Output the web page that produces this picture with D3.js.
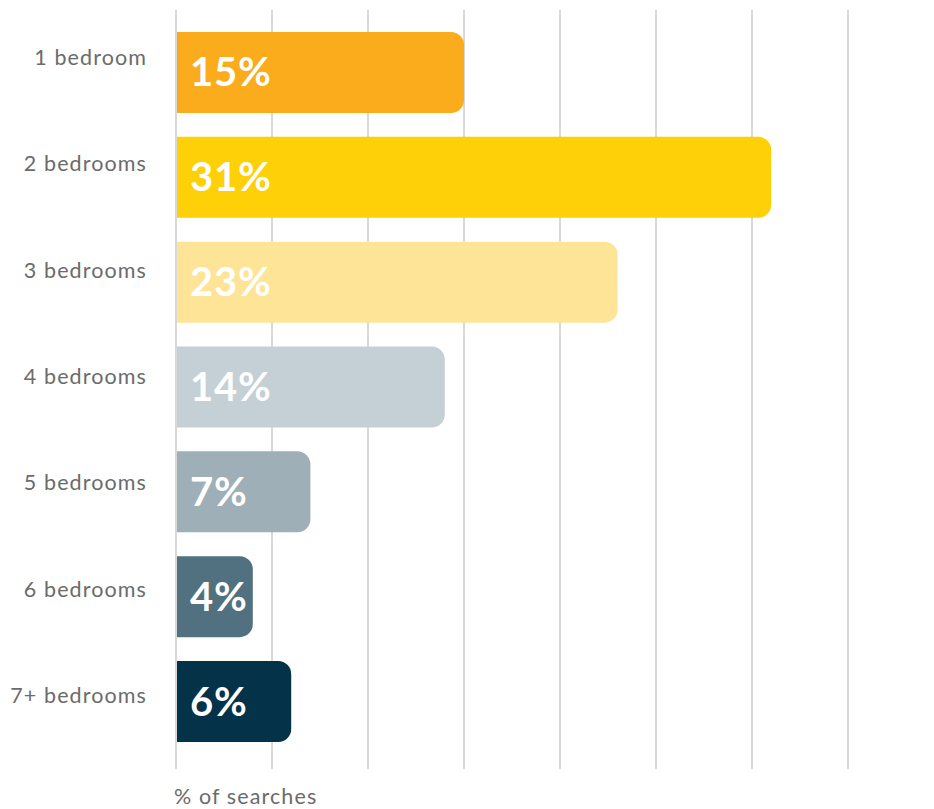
<!DOCTYPE html>
<html>
<head>
<meta charset="utf-8">
<script src="https://cdn.jsdelivr.net/npm/d3@7"></script>
<style>
  html, body { margin: 0; padding: 0; background: #ffffff; }
  svg { display: block; }
</style>
</head>
<body>
<div id="chart"></div>
<script>
// Share of property searches by number of bedrooms
const categories = ["1 bedroom", "2 bedrooms", "3 bedrooms", "4 bedrooms", "5 bedrooms", "6 bedrooms", "7+ bedrooms"];
const shares = [15, 31, 23, 14, 7, 4, 6];
const barColors = ["#FAAC1D", "#FDD007", "#FEE496", "#C4D0D6", "#9EAFB8", "#527180", "#033249"];
const gridTicks = [0, 5, 10, 15, 20, 25, 30, 35];
const axisTitle = "% of searches";

const width = 934, height = 809;
const plotLeft = 176, plotRight = 848, plotTop = 10, plotBottom = 769;
const fontFamily = "Lato, 'Open Sans', sans-serif";

const svg = d3.select("#chart").append("svg")
  .attr("width", width).attr("height", height);

const x = d3.scaleLinear().domain([0, 35]).range([plotLeft, plotRight]);
const y = d3.scaleBand().domain(categories).range([plotTop, 764])
  .paddingInner(0.228).paddingOuter(0.21);
const labelY = d3.scalePoint().domain(categories).range([58, 696]);

// vertical gridlines
svg.append("g").selectAll("line").data(gridTicks).join("line")
  .attr("x1", d => x(d)).attr("x2", d => x(d))
  .attr("y1", plotTop).attr("y2", plotBottom)
  .attr("stroke", "#d9d9d9").attr("stroke-width", 2);

// bars with rounded right end, starting just past the zero line
const r = 13;
function barPath(x0, x1, y0, h) {
  const rr = Math.min(r, (x1 - x0), h / 2);
  return `M${x0},${y0}H${x1 - rr}A${rr},${rr} 0 0 1 ${x1},${y0 + rr}` +
         `V${y0 + h - rr}A${rr},${rr} 0 0 1 ${x1 - rr},${y0 + h}H${x0}Z`;
}
const data = categories.map((c, i) => ({ c, v: shares[i], color: barColors[i] }));

svg.append("g").selectAll("path").data(data).join("path")
  .attr("d", d => barPath(x(0) + 1, x(d.v), y(d.c), y.bandwidth()))
  .attr("fill", d => d.color);

// value labels inside bars
svg.append("g").selectAll("text").data(data).join("text")
  .attr("x", x(0) + 14)
  .attr("y", d => y(d.c) + y.bandwidth() / 2 + 14)
  .attr("fill", "#ffffff")
  .attr("font-family", fontFamily)
  .attr("font-weight", 700)
  .attr("font-size", 40)
  .attr("letter-spacing", 0.8)
  .text(d => d.v + "%");

// category labels
svg.append("g").selectAll("text").data(categories).join("text")
  .attr("x", 147)
  .attr("y", d => labelY(d) + 7)
  .attr("text-anchor", "end")
  .attr("fill", "#6b6b6b")
  .attr("font-family", fontFamily)
  .attr("font-size", 21.5)
  .attr("letter-spacing", 1.1)
  .text(d => d);

// axis title
svg.append("text")
  .attr("x", 174).attr("y", 804)
  .attr("fill", "#6b6b6b")
  .attr("font-family", fontFamily)
  .attr("font-size", 21.5)
  .attr("letter-spacing", 1.1)
  .text(axisTitle);
</script>
</body>
</html>
